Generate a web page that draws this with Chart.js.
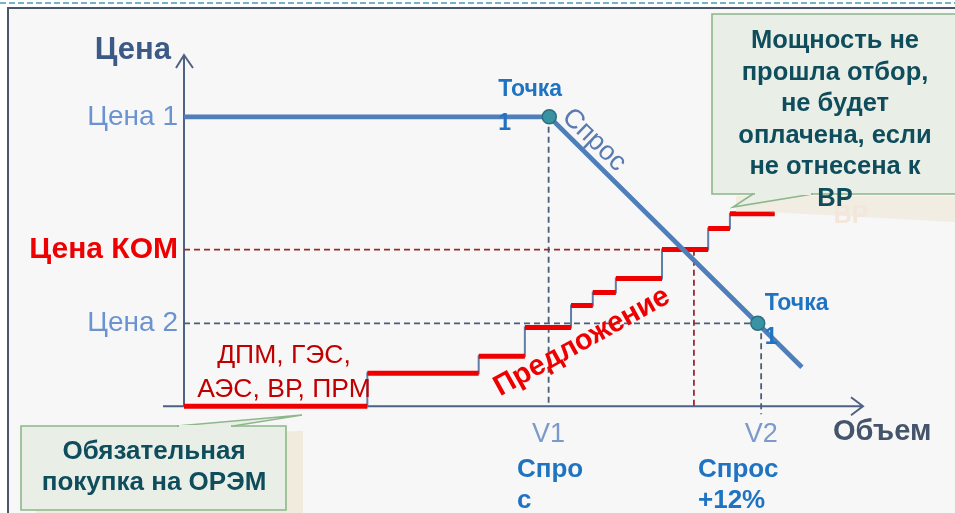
<!DOCTYPE html>
<html>
<head>
<meta charset="utf-8">
<script src="https://cdn.jsdelivr.net/npm/chart.js@4.4.1/dist/chart.umd.min.js"></script>
<style>
  html, body { margin: 0; padding: 0; background: #fff; }
  canvas { display: block; }
</style>
</head>
<body>
<canvas id="chart" width="955" height="513"></canvas>
<script>
// price levels on the vertical axis
const priceValues = [23.6, 44.6, 82.4];
const priceLabels = ['Цена 2', 'Цена КОМ', 'Цена 1'];

// volumes on the horizontal axis
const volumeValues = [53.7, 85];
const volumeLabels = ['V1', 'V2'];

// supply curve: step edges and the price of each step
const supplyX = [0, 27, 43.4, 50.2, 57, 60.2, 63.6, 70.4, 77.2, 80.4, 87];
const supplyY = [0, 9.4, 14.2, 22.4, 28.7, 32.4, 36.4, 44.6, 50.6, 54.8];

// demand curve
const demandX = [0, 53.8, 91];
const demandY = [82.4, 82.4, 11.1];

// marked points (Точка 1)
const pointX = [53.8, 84.5];
const pointY = [82.4, 23.6];

// volume where the KOM price meets demand
const komVolume = 75.1;

const BASE = '"Liberation Sans", Arial, sans-serif';

// ---- datasets built from the arrays ----
const redSteps = [];
const stepLine = [];
for (let i = 0; i < supplyY.length; i++) {
    redSteps.push({x: supplyX[i], y: supplyY[i]});
    redSteps.push({x: supplyX[i + 1], y: supplyY[i]});
    redSteps.push({x: supplyX[i + 1], y: null});
    stepLine.push({x: supplyX[i], y: supplyY[i]});
}
stepLine.push({x: supplyX[supplyX.length - 1], y: supplyY[supplyY.length - 1]});

const demand = demandX.map((x, i) => ({x: x, y: demandY[i]}));
const points = pointX.map((x, i) => ({x: x, y: pointY[i]}));

function dashed(data, color) {
    return {
        data: data, borderColor: color, borderWidth: 1.8, borderDash: [6, 4],
        pointRadius: 0, fill: false, clip: false
    };
}

const datasets = [
    {   // points on top
        data: points, showLine: false, pointRadius: 7, pointHoverRadius: 7,
        pointBackgroundColor: '#3a93a3', pointBorderColor: '#2b6f7e', pointBorderWidth: 1.5, clip: false
    },
    {   // demand
        data: demand, borderColor: '#4f7fba', borderWidth: 4.8, pointRadius: 0, clip: false
    },
    {   // supply horizontals
        data: redSteps, borderColor: '#ee0000', borderWidth: 5, pointRadius: 0, spanGaps: false, clip: false
    },
    {   // supply step risers (horizontal first, then up)
        data: stepLine, stepped: 'before', borderColor: '#5f7ea8', borderWidth: 2, pointRadius: 0, clip: false
    },
    dashed([{x: 0, y: priceValues[1]}, {x: komVolume, y: priceValues[1]}, {x: komVolume, y: 0}], '#9b2a2f'),
    dashed([{x: 0, y: priceValues[0]}, {x: pointX[1], y: priceValues[0]}], '#4b5d78'),
    dashed([{x: volumeValues[0], y: pointY[0]}, {x: volumeValues[0], y: 0}], '#4b5d78'),
    dashed([{x: volumeValues[1], y: pointY[1]}, {x: volumeValues[1], y: -2.3}], '#4b5d78')
];

// ---- drawing helpers ----
function text(ctx, str, x, y, font, color, align, angle) {
    ctx.save();
    ctx.font = font;
    ctx.fillStyle = color;
    ctx.textAlign = align || 'center';
    ctx.textBaseline = 'middle';
    ctx.translate(x, y);
    if (angle) ctx.rotate(angle);
    ctx.fillText(str, 0, 0);
    ctx.restore();
}

function callout(ctx, box, tip, base) {
    ctx.save();
    ctx.fillStyle = '#e9efe7';
    ctx.strokeStyle = '#8db78a';
    ctx.lineWidth = 1.6;
    ctx.beginPath();
    ctx.rect(box[0], box[1], box[2], box[3]);
    ctx.fill();
    ctx.stroke();
    ctx.beginPath();
    ctx.moveTo(base[0], base[2]);
    ctx.lineTo(tip[0], tip[1]);
    ctx.lineTo(base[1], base[2]);
    ctx.closePath();
    ctx.fill();
    ctx.stroke();
    // hide the box edge under the wedge
    ctx.strokeStyle = '#e9efe7';
    ctx.lineWidth = 2;
    ctx.beginPath();
    ctx.moveTo(base[0] + 2, base[2]);
    ctx.lineTo(base[1] - 2, base[2]);
    ctx.stroke();
    ctx.restore();
}

const backdrop = {
    id: 'backdrop',
    beforeDraw(chart) {
        const ctx = chart.ctx;
        ctx.save();
        ctx.fillStyle = '#ffffff';
        ctx.fillRect(0, 0, 955, 513);
        ctx.fillStyle = '#f7f7f7';
        ctx.fillRect(8, 8, 947, 505);
        ctx.strokeStyle = '#4a5568';
        ctx.lineWidth = 2;
        ctx.beginPath();
        ctx.moveTo(8, 513);
        ctx.lineTo(8, 8);
        ctx.lineTo(955, 8);
        ctx.stroke();
        ctx.strokeStyle = '#4b9db2';
        ctx.lineWidth = 1.5;
        ctx.setLineDash([6, 3]);
        ctx.beginPath();
        ctx.moveTo(0, 3);
        ctx.lineTo(955, 3);
        ctx.stroke();
        ctx.restore();
    }
};

const axesArrows = {
    id: 'axesArrows',
    beforeDatasetsDraw(chart) {
        const ctx = chart.ctx;
        const xs = chart.scales.x, ys = chart.scales.y;
        const x0 = xs.getPixelForValue(0), y0 = ys.getPixelForValue(0);
        const top = chart.chartArea.top, right = chart.chartArea.right;
        ctx.save();
        ctx.strokeStyle = '#4e6283';
        ctx.lineWidth = 2;
        ctx.beginPath();
        ctx.moveTo(x0 - 21, y0);
        ctx.lineTo(right, y0);
        ctx.moveTo(right - 12, y0 - 9);
        ctx.lineTo(right, y0);
        ctx.lineTo(right - 12, y0 + 9);
        ctx.moveTo(x0, y0);
        ctx.lineTo(x0, top);
        ctx.moveTo(x0 - 8, top + 13);
        ctx.lineTo(x0, top);
        ctx.lineTo(x0 + 9, top + 13);
        ctx.stroke();
        ctx.restore();
    }
};

const labels = {
    id: 'labels',
    afterDraw(chart) {
        const ctx = chart.ctx;
        const xs = chart.scales.x, ys = chart.scales.y;
        const px = v => xs.getPixelForValue(v), py = v => ys.getPixelForValue(v);
        const blue = '#1f73c1';

        text(ctx, 'Цена', 171, 50, 'bold 31px ' + BASE, '#3c5a86', 'right');
        text(ctx, 'Объем', 833, 432, 'bold 29px ' + BASE, '#44546a', 'left');

        // Точка 1 labels
        text(ctx, 'Точка', px(pointX[0]) - 51, py(pointY[0]) - 27, 'bold 23px ' + BASE, blue, 'left');
        text(ctx, '1', px(pointX[0]) - 51, py(pointY[0]) + 7, 'bold 23px ' + BASE, blue, 'left');
        text(ctx, 'Точка', px(pointX[1]) + 7, py(pointY[1]) - 20, 'bold 23px ' + BASE, blue, 'left');
        text(ctx, '1', px(pointX[1]) + 7, py(pointY[1]) + 14, 'bold 23px ' + BASE, blue, 'left');

        // demand labels under the axis
        text(ctx, 'Спро', 517, 470, 'bold 26px ' + BASE, blue, 'left');
        text(ctx, 'с', 517, 501, 'bold 26px ' + BASE, blue, 'left');
        text(ctx, 'Спрос', 698, 470, 'bold 26px ' + BASE, blue, 'left');
        text(ctx, '+12%', 698, 501, 'bold 26px ' + BASE, blue, 'left');

        // rotated curve names
        text(ctx, 'Спрос', 594, 140, '27px ' + BASE, '#5a7bb2', 'center', 44 * Math.PI / 180);
        text(ctx, 'Предложение', 582, 342, 'bold 29px ' + BASE, '#ee0000', 'center', -29 * Math.PI / 180);

        // generator group
        text(ctx, 'ДПМ, ГЭС,', 284, 356, '26.5px ' + BASE, '#c00000', 'center');
        text(ctx, 'АЭС, ВР, ПРМ', 284, 390, '26.5px ' + BASE, '#c00000', 'center');

        // shadows behind callouts
        ctx.save();
        ctx.fillStyle = 'rgba(236, 229, 210, 0.7)';
        ctx.beginPath();
        ctx.moveTo(36, 437);
        ctx.lineTo(303, 431);
        ctx.lineTo(303, 513);
        ctx.lineTo(36, 513);
        ctx.closePath();
        ctx.fill();
        ctx.fillStyle = 'rgba(236, 229, 210, 0.55)';
        ctx.beginPath();
        ctx.moveTo(736, 196);
        ctx.lineTo(955, 196);
        ctx.lineTo(955, 222);
        ctx.lineTo(768, 212);
        ctx.lineTo(736, 212);
        ctx.closePath();
        ctx.fill();
        ctx.restore();
        text(ctx, 'ВР', 851, 216, 'bold 25px ' + BASE, '#f3e6da', 'center');

        // callouts
        callout(ctx, [21, 426, 265, 84], [302, 415], [177, 233, 426]);
        text(ctx, 'Обязательная', 154, 452, 'bold 26px ' + BASE, '#0f4d5c');
        text(ctx, 'покупка на ОРЭМ', 154, 483, 'bold 26px ' + BASE, '#0f4d5c');

        callout(ctx, [712, 14, 250, 180], [733, 207], [753, 813, 194]);
        const lines = ['Мощность не', 'прошла отбор,', 'не будет', 'оплачена, если', 'не отнесена к', 'ВР'];
        lines.forEach((s, i) => text(ctx, s, 835, 41 + i * 31.6, 'bold 25.5px ' + BASE, '#0f4d5c'));
    }
};

new Chart(document.getElementById('chart').getContext('2d'), {
    type: 'line',
    data: {datasets: datasets},
    options: {
        responsive: false,
        animation: false,
        events: [],
        layout: {padding: {left: 0, right: 92, top: 55, bottom: 0}},
        plugins: {legend: {display: false}, tooltip: {enabled: false}},
        scales: {
            x: {
                type: 'linear', min: 0, max: 100,
                afterFit(s) { s.height = 98; },
                afterBuildTicks(s) { s.ticks = volumeValues.map(v => ({value: v})); },
                grid: {display: false}, border: {display: false},
                ticks: {
                    autoSkip: false, maxRotation: 0, padding: -5,
                    callback: (v, i) => volumeLabels[i],
                    color: '#7b9acb',
                    font: {family: BASE, size: 27}
                }
            },
            y: {
                type: 'linear', min: -2.5, max: 100,
                afterFit(s) { s.width = 184; },
                afterBuildTicks(s) { s.ticks = priceValues.map(v => ({value: v})); },
                grid: {display: false}, border: {display: false},
                ticks: {
                    autoSkip: false, padding: -2,
                    callback: (v, i) => priceLabels[i],
                    color: ctx => priceLabels[ctx.index] === 'Цена КОМ' ? '#ee0000' : '#6b93cf',
                    font: ctx => priceLabels[ctx.index] === 'Цена КОМ'
                        ? {family: BASE, size: 30, weight: 'bold'}
                        : {family: BASE, size: 28}
                }
            }
        }
    },
    plugins: [backdrop, axesArrows, labels]
});
</script>
</body>
</html>
